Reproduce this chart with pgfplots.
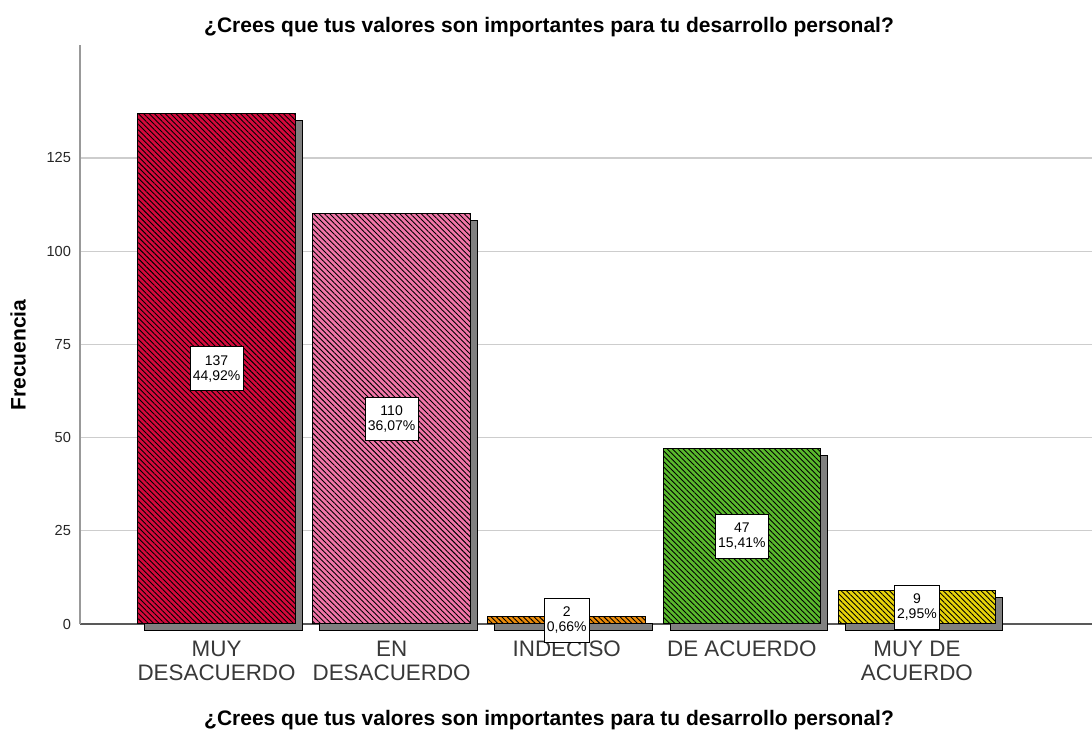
\documentclass[border=0pt]{standalone}
\usepackage{fontspec}
\setmainfont{Liberation Sans}
\usepackage{pgfplots}
\pgfplotsset{compat=1.18}
\usetikzlibrary{patterns.meta}

\definecolor{barRed}{RGB}{212,10,60}
\definecolor{barPink}{RGB}{242,118,168}
\definecolor{barOrange}{RGB}{236,140,10}
\definecolor{barGreen}{RGB}{90,185,45}
\definecolor{barYellow}{RGB}{232,212,10}
\definecolor{shadowGray}{RGB}{128,128,128}
\definecolor{gridGray}{RGB}{205,205,205}

\pgfplotsset{
  spssbar/.style={
    ybar, bar width=0.9, bar shift=0pt,
    preaction={fill=shadowGray, transform canvas={xshift=3.5pt,yshift=-3.5pt}},
    preaction={fill=#1},
    pattern={Lines[angle=-45,distance=1.9pt,line width=0.45pt]}, pattern color=black,
    draw=black, line width=0.5pt,
    point meta=explicit symbolic,
    visualization depends on=rawy \as \rawy,
    nodes near coords={\pgfplotspointmeta},
    every node near coord/.append style={
      anchor=center, fill=white, draw=black, line width=0.4pt, text=black,
      align=center, font=\fontsize{7}{7.5}\selectfont,
      inner xsep=1.4pt, inner ysep=4.3pt,
      shift={(axis direction cs:0,-0.5*\rawy)}},
  },
}

\begin{document}
\begin{tikzpicture}
\begin{axis}[
  scale only axis,
  width=506pt, height=289.5pt,
  clip=false,
  xmin=-0.78, xmax=5.0,
  ymin=0, ymax=155.3,
  xtick={0,1,2,3,4},
  xticklabels={{MUY\\DESACUERDO},{EN\\DESACUERDO},INDECISO,{DE ACUERDO},{MUY DE\\ACUERDO}},
  ytick={0,25,50,75,100,125},
  major tick length=0pt,
  axis x line*=bottom, axis y line*=left,
  x axis line style={-, draw=black!65, line width=0.6pt},
  y axis line style={-, draw=black!40, line width=0.6pt},
  ymajorgrids=true,
  grid style={draw=gridGray, line width=0.6pt},
  /pgf/number format/assume math mode=true,
  yticklabel style={font=\fontsize{7.3}{8}\selectfont, text=black!85, xshift=-1pt},
  xticklabel style={align=center, font=\fontsize{11.2}{12}\selectfont, text=black!78, yshift=-5pt},
]
\addplot[spssbar=barRed]    coordinates {(0,137) [137\\44,92\%]};
\addplot[spssbar=barPink]   coordinates {(1,110) [110\\36,07\%]};
\addplot[spssbar=barOrange] coordinates {(2,2) [2\\0,66\%]};
\addplot[spssbar=barGreen]  coordinates {(3,47) [47\\15,41\%]};
\addplot[spssbar=barYellow] coordinates {(4,9) [9\\2,95\%]};

\coordinate (bl) at (rel axis cs:0,0);
\coordinate (tr) at (rel axis cs:1,1);
\node[font=\bfseries\fontsize{10.5}{12}\selectfont] at (rel axis cs:0.4635,1) [yshift=9pt]
  {¿Crees que tus valores son importantes para tu desarrollo personal?};
\node[font=\bfseries\fontsize{10.5}{12}\selectfont] at (rel axis cs:0.4635,0) [yshift=-48pt]
  {¿Crees que tus valores son importantes para tu desarrollo personal?};
\node[font=\bfseries\fontsize{10.5}{12}\selectfont, rotate=90] at ([xshift=-31pt]rel axis cs:0,0.4646)
  {Frecuencia};
\end{axis}
\pgfresetboundingbox
\path ([shift={(-40pt,-54.5pt)}]bl) rectangle ([shift={(0pt,22.5pt)}]tr);
\end{tikzpicture}
\end{document}
